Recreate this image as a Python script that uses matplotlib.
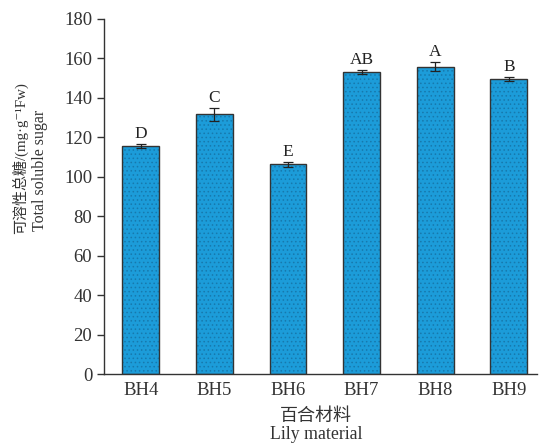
import matplotlib
matplotlib.use('Agg')
import matplotlib.pyplot as plt
import numpy as np

materials = ['BH4', 'BH5', 'BH6', 'BH7', 'BH8', 'BH9']
sugar = [115.7, 131.6, 106.3, 153.0, 155.7, 149.7]
sugar_err = [0.9, 3.3, 1.2, 1.0, 2.3, 1.1]
groups = ['D', 'C', 'E', 'AB', 'A', 'B']

serif = ['Liberation Serif', 'Noto Sans CJK SC', 'DejaVu Serif']
plt.rcParams['font.family'] = serif
plt.rcParams['hatch.linewidth'] = 0.6

fig = plt.figure(figsize=(5.4, 4.46), dpi=100)
ax = fig.add_axes([0.1926, 0.1614, 0.8014, 0.796])

x = np.arange(len(materials))
# stippled fill, then outline on top
ax.bar(x, sugar, width=0.5, color='#1c9cd9', edgecolor='#1779ad',
       linewidth=0, hatch='....', zorder=2)
ax.bar(x, sugar, width=0.5, color='none', edgecolor='#333333',
       linewidth=1.0, zorder=3)
ax.errorbar(x, sugar, yerr=sugar_err, fmt='none', ecolor='#222222',
            elinewidth=0.9, capsize=3.5, capthick=0.9, zorder=4)

for xi, v, e, g in zip(x, sugar, sugar_err, groups):
    ax.annotate(g, (xi, v + e), xytext=(0, 1.5), textcoords='offset points',
                ha='center', va='bottom', fontsize=12.5, color='#222222')

ax.set_xlim(-0.5, 5.38)
ax.set_ylim(0, 180)
ax.set_yticks(np.arange(0, 181, 20))
ax.set_xticks(x)
ax.set_xticklabels(materials)

for s in ['top', 'right']:
    ax.spines[s].set_visible(False)
for s in ['left', 'bottom']:
    ax.spines[s].set_linewidth(1.0)
    ax.spines[s].set_color('#333333')

ax.tick_params(axis='y', direction='out', length=5, width=1,
               labelsize=13.5, colors='#333333')
ax.tick_params(axis='x', direction='in', length=5, width=1,
               labelsize=13.5, colors='#333333', pad=6)

fig.text(0.037, 0.476, '可溶性总糖/(mg·g⁻¹Fw)', rotation=90,
         ha='center', va='bottom', fontsize=10.8, color='#333333')
fig.text(0.075, 0.482, 'Total soluble sugar', rotation=90,
         ha='center', va='bottom', fontsize=11.5, color='#333333')
fig.text(0.585, 0.066, '百合材料', ha='center', va='center',
         fontsize=13, color='#333333')
fig.text(0.585, 0.006, 'Lily material', ha='center', va='bottom',
         fontsize=12.8, color='#333333')

fig.savefig('out.png', dpi=100)
